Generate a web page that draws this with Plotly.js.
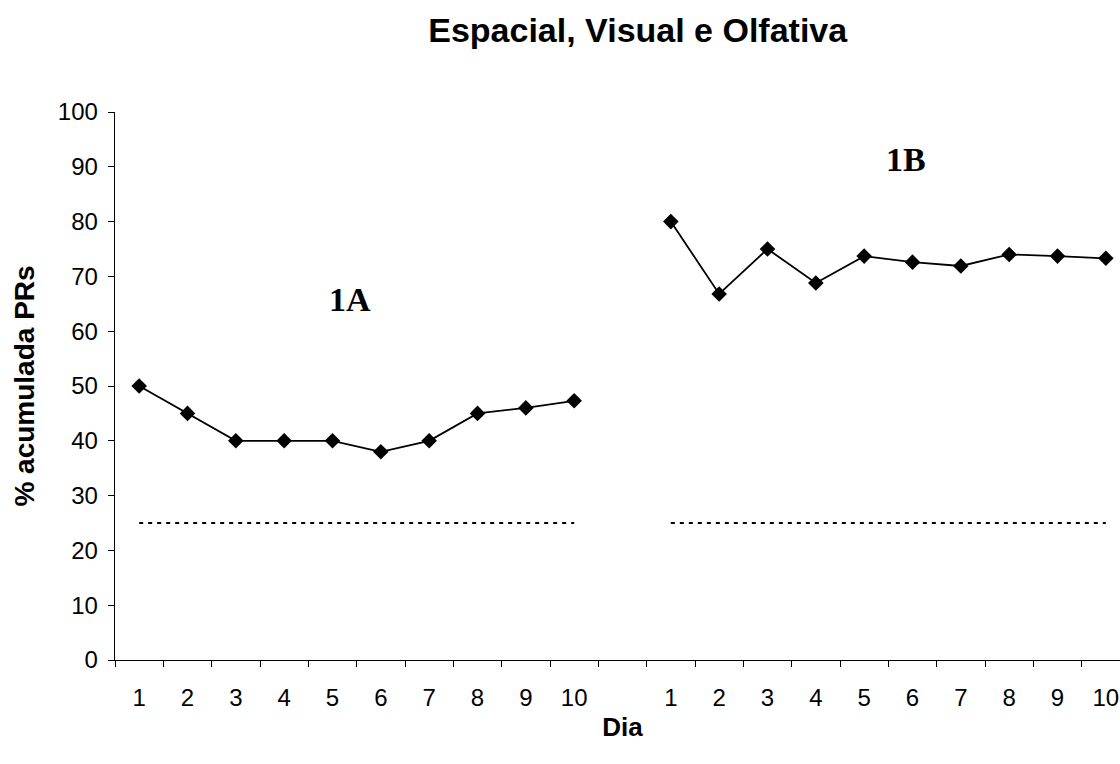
<!DOCTYPE html>
<html>
<head>
<meta charset="utf-8">
<script src="https://cdn.plot.ly/plotly-3.0.1.min.js"></script>
<style>
html,body{margin:0;padding:0;overflow:hidden;background:#fff;}
#chart{width:1160px;height:764px;}
</style>
</head>
<body>
<div id="chart"></div>
<script>
// Data
const dias = ['1','2','3','4','5','6','7','8','9','10'];
const grupo1A = [50, 45, 40, 40, 40, 38, 40, 45, 46, 47.3];
const grupo1B = [80, 66.8, 75, 68.8, 73.7, 72.6, 71.9, 74, 73.7, 73.3];
const acaso = [25, 25, 25, 25, 25, 25, 25, 25, 25, 25];
const rotulos = ['1A', '1B'];

// category positions: group A at 1..10, a blank slot, group B at 12..21
const xA = dias.map((d, i) => i + 1);
const xB = dias.map((d, i) => i + 1 + dias.length + 1);
const allX = xA.concat(xB);
const allText = dias.concat(dias);

const lineStyle = {color: '#000', width: 1.8};
const markerStyle = {symbol: 'diamond', size: 12, color: '#000'};
const dotStyle = {color: '#000', width: 2, dash: '4px,5px'};

const traces = [
  {x: xA, y: acaso, mode: 'lines', line: dotStyle, hoverinfo: 'skip'},
  {x: xB, y: acaso, mode: 'lines', line: dotStyle, hoverinfo: 'skip'},
  {x: xA, y: grupo1A, mode: 'lines+markers', line: lineStyle, marker: markerStyle},
  {x: xB, y: grupo1B, mode: 'lines+markers', line: lineStyle, marker: markerStyle}
];

const boundaries = [];
for (let i = 0; i <= allX[allX.length - 1]; i++) boundaries.push(i + 0.5);

const sans = 'Arial, "Liberation Sans", sans-serif';
const serif = '"Times New Roman", "Liberation Serif", serif';

const layout = {
  width: 1160, height: 764,
  margin: {l: 115, r: 30, t: 112, b: 104},
  paper_bgcolor: '#fff', plot_bgcolor: '#fff',
  showlegend: false,
  font: {family: sans, color: '#000', size: 24},
  title: {text: '<b>Espacial, Visual e Olfativa</b>', x: 0.515, xref: 'paper', xanchor: 'center',
          y: 0.9607, yref: 'container', yanchor: 'middle', font: {size: 34, color: '#000'}},
  xaxis: {
    range: [0.5, allX[allX.length - 1] + 0.5],
    tickmode: 'array', tickvals: allX, ticktext: allText,
    ticks: 'outside', ticklen: 16, tickcolor: 'rgba(0,0,0,0)',
    minor: {tickmode: 'array', tickvals: boundaries, ticks: 'outside', ticklen: 6, tickcolor: '#000', tickwidth: 1, showgrid: false},
    showline: true, linecolor: '#000', linewidth: 1.3,
    showgrid: false, zeroline: false,
    tickfont: {size: 24},
    title: {text: '<b>Dia</b>', font: {size: 26}, standoff: 7}
  },
  yaxis: {
    range: [0, 100], tickmode: 'linear', tick0: 0, dtick: 10,
    ticks: 'outside', ticklen: 6, tickcolor: '#000', ticklabelstandoff: 5,
    showline: true, linecolor: '#000', linewidth: 1.3,
    showgrid: false, zeroline: false,
    tickfont: {size: 24},
    title: {text: '<b>% acumulada PRs</b>', font: {size: 28}, standoff: 15}
  },
  annotations: [
    {x: 5.36, y: 65.7, xref: 'x', yref: 'y', text: '<b>' + rotulos[0] + '</b>', showarrow: false,
     font: {family: serif, size: 34, color: '#000'}},
    {x: 16.87, y: 91.4, xref: 'x', yref: 'y', text: '<b>' + rotulos[1] + '</b>', showarrow: false,
     font: {family: serif, size: 34, color: '#000'}}
  ]
};

Plotly.newPlot('chart', traces, layout, {displayModeBar: false, staticPlot: true});
</script>
</body>
</html>
